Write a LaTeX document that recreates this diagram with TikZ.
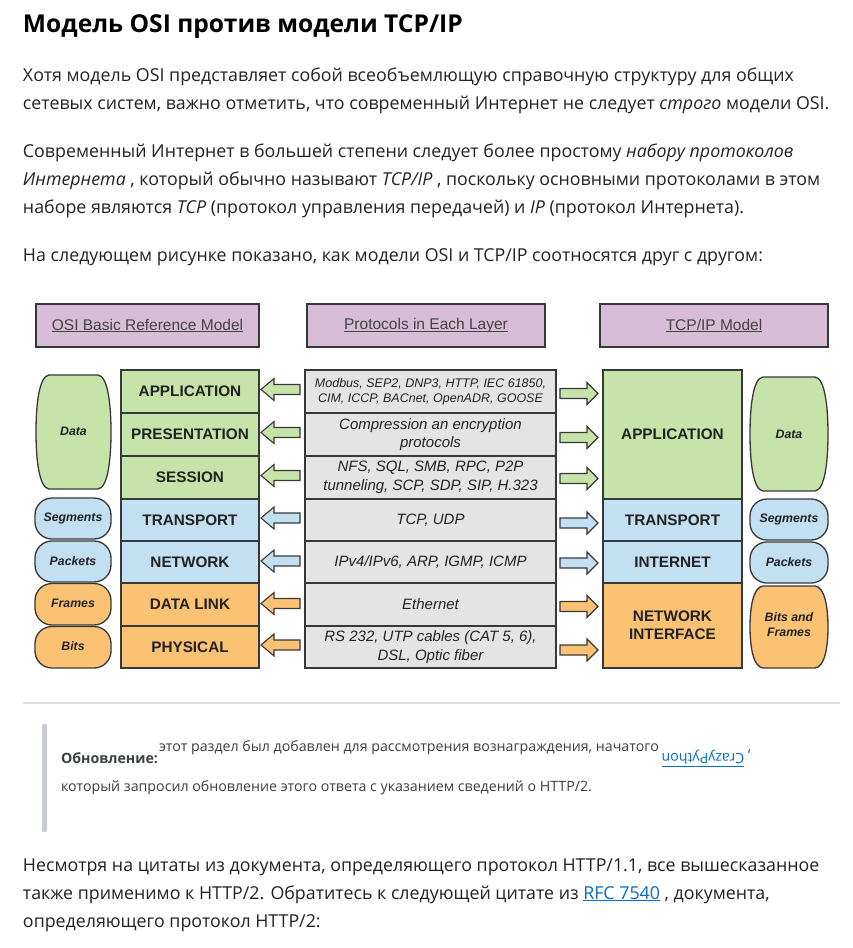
\documentclass[tikz,border=0pt]{standalone}
\usepackage{fontspec}
\setmainfont{Open Sans}
\newfontfamily\arial{Liberation Sans}
\usetikzlibrary{calc}
\definecolor{lgreen}{HTML}{C6E3A9}
\definecolor{lblue}{HTML}{C2E0F2}
\definecolor{lorange}{HTML}{FCC273}
\definecolor{lgray}{HTML}{E4E4E4}
\definecolor{lpurple}{HTML}{D7BDD5}
\definecolor{bord}{HTML}{383838}
\definecolor{dtxt}{HTML}{222222}
\definecolor{txt}{HTML}{232323}
\definecolor{qtxt}{HTML}{3B4045}
\definecolor{linkc}{HTML}{0A6CC4}
\definecolor{hrc}{HTML}{DDDDDD}
\definecolor{barc}{HTML}{C8CCD0}
\newcommand\ulx[1]{\setbox0\hbox{#1}\rlap{\rule[-2pt]{\wd0}{0.9pt}}\box0}
\newcommand\larrow[4]{%
  \draw[arrowline, fill=#3] let \p1=($(#1.east)+(0,#4)$), \p2=(#2.west) in
   (\x1+2pt,\y1) -- (\x1+15pt,\y1+11pt) -- (\x1+15pt,\y1+5pt) -- (\x2-5pt,\y1+5pt)
   -- (\x2-5pt,\y1-5pt) -- (\x1+15pt,\y1-5pt) -- (\x1+15pt,\y1-11pt) -- cycle;}
\newcommand\rarrow[4]{%
  \draw[arrowline, fill=#3] let \p1=($(#1.east)+(0,#4)$), \p2=(#2.west) in
   (\x2-5pt,\y1) -- (\x2-16pt,\y1+11pt) -- (\x2-16pt,\y1+5pt) -- (\x1+4pt,\y1+5pt)
   -- (\x1+4pt,\y1-5pt) -- (\x2-16pt,\y1-5pt) -- (\x2-16pt,\y1-11pt) -- cycle;}
% barrel: x1,y1,x2,y2,fill,vertical control
\newcommand\barrel[6]{%
  \draw[pillline, fill=#5] (#1+13,#2) -- (#3-13,#2) .. controls (#3-3,#2+1) and (#3,#2+#6) .. (#3,{(#2+#4)/2})
   .. controls (#3,#4-#6) and (#3-3,#4-1) .. (#3-13,#4) -- (#1+13,#4)
   .. controls (#1+3,#4-1) and (#1,#4-#6) .. (#1,{(#2+#4)/2})
   .. controls (#1,#2+#6) and (#1+3,#2+1) .. (#1+13,#2) -- cycle;}
\begin{document}
\begin{tikzpicture}[x=1pt,y=-1pt,
  web/.style={anchor=base west, inner sep=0pt, outer sep=0pt, text=txt, font=\fontsize{17.8}{21}\selectfont},
  quote/.style={web, text=qtxt, font=\fontsize{14.2}{18}\selectfont},
  cell/.style={draw=bord, line width=1.4pt, inner sep=0pt, outer sep=0pt, align=center, text=dtxt},
  layer/.style={cell, font=\arial\bfseries\fontsize{15.3}{18}\selectfont},
  proto/.style={cell, fill=lgray, font=\arial\itshape\fontsize{15}{18.5}\selectfont, minimum width=251pt},
  head/.style={cell, fill=lpurple, text=dtxt!85, font=\arial\fontsize{15.5}{18}\selectfont, minimum height=43pt},
  arrowline/.style={draw=bord, line width=1.1pt, line join=miter},
  pillline/.style={draw=bord, line width=1.3pt},
  pilltext/.style={inner sep=0pt, align=center, text=dtxt, font=\arial\bfseries\itshape\fontsize{12.3}{15}\selectfont},
  pill/.style={pillline, rounded corners=17pt}
]
\useasboundingbox (0,0) rectangle (852,948);
\fill[white] (0,0) rectangle (852,948);

% ---------- page text ----------
\node[web, text=black, font=\bfseries\fontsize{24.6}{29}\selectfont] (title) at (23,32) {Модель OSI против модели TCP/IP};
\node[web] (l1) at (23,81) {Хотя модель OSI представляет собой всеобъемлющую справочную структуру для общих};
\node[web] (l2) at (23,109) {сетевых систем, важно отметить, что современный Интернет не следует \textit{строго} модели OSI.};
\node[web] (l3) at (23,157) {Современный Интернет в большей степени следует более простому \textit{набору протоколов}};
\node[web] (l4) at (23,185) {\textit{Интернета} , который обычно называют \textit{TCP/IP} , поскольку основными протоколами в этом};
\node[web] (l5) at (23,213) {наборе являются \textit{TCP} (протокол управления передачей) и \textit{IP} (протокол Интернета).};
\node[web] (l6) at (23,261) {На следующем рисунке показано, как модели OSI и TCP/IP соотносятся друг с другом:};

% ---------- headers ----------
\node[head, minimum width=223pt] (h1) at (147.5,325.5) {\ulx{OSI Basic Reference Model}};
\node[head, minimum width=238pt] (h2) at (426,325.5) {\ulx{Protocols in Each Layer}};
\node[head, minimum width=228pt] (h3) at (714,325.5) {\ulx{TCP/IP Model}};

% ---------- OSI layers ----------
\node[layer, fill=lgreen, minimum width=138pt, minimum height=43pt] (o1) at (190,391.5) {APPLICATION};
\node[layer, fill=lgreen, minimum width=138pt, minimum height=43pt] (o2) at (190,434.5) {PRESENTATION};
\node[layer, fill=lgreen, minimum width=138pt, minimum height=43pt] (o3) at (190,477.5) {SESSION};
\node[layer, fill=lblue, minimum width=138pt, minimum height=42pt] (o4) at (190,520) {TRANSPORT};
\node[layer, fill=lblue, minimum width=138pt, minimum height=42pt] (o5) at (190,562) {NETWORK};
\node[layer, fill=lorange, minimum width=138pt, minimum height=43pt] (o6) at (190,604.5) {DATA LINK};
\node[layer, fill=lorange, minimum width=138pt, minimum height=42pt] (o7) at (190,647) {PHYSICAL};

% ---------- protocols ----------
\node[proto, minimum height=43pt, font=\arial\itshape\fontsize{12.5}{15}\selectfont] (p1) at (430.5,391.5) {Modbus, SEP2, DNP3, HTTP, IEC 61850,\\CIM, ICCP, BACnet, OpenADR, GOOSE};
\node[proto, minimum height=43pt] (p2) at (430.5,434.5) {Compression an encryption\\protocols};
\node[proto, minimum height=43pt] (p3) at (430.5,477.5) {NFS, SQL, SMB, RPC, P2P\\tunneling, SCP, SDP, SIP, H.323};
\node[proto, minimum height=42pt] (p4) at (430.5,520) {TCP, UDP};
\node[proto, minimum height=42pt] (p5) at (430.5,562) {IPv4/IPv6, ARP, IGMP, ICMP};
\node[proto, minimum height=43pt] (p6) at (430.5,604.5) {Ethernet};
\node[proto, minimum height=42pt] (p7) at (430.5,647) {RS 232, UTP cables (CAT 5, 6),\\DSL, Optic fiber};

% ---------- TCP/IP layers ----------
\node[layer, fill=lgreen, minimum width=139pt, minimum height=129pt] (t1) at (672.5,434.5) {APPLICATION};
\node[layer, fill=lblue, minimum width=139pt, minimum height=42pt] (t2) at (672.5,520) {TRANSPORT};
\node[layer, fill=lblue, minimum width=139pt, minimum height=42pt] (t3) at (672.5,562) {INTERNET};
\node[layer, fill=lorange, minimum width=139pt, minimum height=85pt] (t4) at (672.5,625.5) {NETWORK\\INTERFACE};

% ---------- block arrows ----------
\larrow{o1}{p1}{lgreen}{-2}
\larrow{o2}{p2}{lgreen}{-2}
\larrow{o3}{p3}{lgreen}{-2}
\larrow{o4}{p4}{lblue}{-2}
\larrow{o5}{p5}{lblue}{-1}
\larrow{o6}{p6}{lorange}{-1}
\larrow{o7}{p7}{lorange}{-2}
\rarrow{p1}{t1}{lgreen}{2}
\rarrow{p2}{t1}{lgreen}{3}
\rarrow{p3}{t1}{lgreen}{1}
\rarrow{p4}{t2}{lblue}{3}
\rarrow{p5}{t3}{lblue}{1}
\rarrow{p6}{t4}{lorange}{2}
\rarrow{p7}{t4}{lorange}{3}

% ---------- left pills ----------
\barrel{36}{375}{111}{489}{lgreen}{30}
\node[pilltext] (dL) at (73.5,431) {Data};
\draw[pill, fill=lblue] (35,498) rectangle (111,539);
\node[pilltext] (sL) at (73,518.5) {Segments};
\draw[pill, fill=lblue] (35,541) rectangle (111,582);
\node[pilltext] (kL) at (73,561.5) {Packets};
\draw[pill, fill=lorange] (35,583.5) rectangle (111,625);
\node[pilltext] (fL) at (73,603) {Frames};
\draw[pill, fill=lorange] (35,626.5) rectangle (111,668);
\node[pilltext] (bL) at (73,646) {Bits};

% ---------- right pills ----------
\barrel{750}{377}{828}{491}{lgreen}{30}
\node[pilltext] (dR) at (789,434) {Data};
\draw[pill, fill=lblue] (750,499) rectangle (828,540);
\node[pilltext] (sR) at (789,519) {Segments};
\draw[pill, fill=lblue] (750,542) rectangle (828,583);
\node[pilltext] (kR) at (789,562) {Packets};
\barrel{750}{586}{828}{668}{lorange}{22}
\node[pilltext] (bfR) at (789,625) {Bits and\\Frames};

% ---------- rule and quote ----------
\draw[hrc, line width=1.2pt] (23,703) -- (840,703);
\fill[barc, rounded corners=2pt] (42,724) rectangle (47,832);
\node[quote, font=\bfseries\fontsize{14.2}{18}\selectfont] (q1) at (61,763) {Обновление:};
\node[quote] (q2) at (159,751) {этот раздел был добавлен для рассмотрения вознаграждения, начатого};
\node[inner sep=0pt, rotate=180, text=linkc, font=\fontsize{14.2}{18}\selectfont] (cp) at (703,757) {CrazyPython};
\draw[linkc, line width=0.9pt] (662,766) -- (744,766);
\node[inner sep=0pt, rotate=180, text=qtxt, font=\fontsize{14.2}{18}\selectfont] (cm) at (749,751) {,};
\node[quote] (q3) at (61,791) {который запросил обновление этого ответа с указанием сведений о HTTP/2.};

% ---------- last paragraph ----------
\node[web] (l7) at (23,871) {Несмотря на цитаты из документа, определяющего протокол HTTP/1.1, все вышесказанное};
\node[web] (l8) at (23,899) {также применимо к HTTP/2. Обратитесь к следующей цитате из \textcolor{linkc}{\ulx{RFC 7540}} , документа,};
\node[web] (l9) at (23,927) {определяющего протокол HTTP/2:};
\end{tikzpicture}
\end{document}
